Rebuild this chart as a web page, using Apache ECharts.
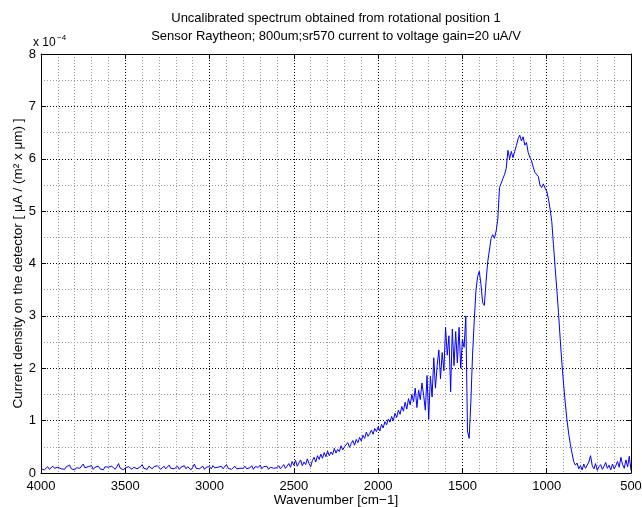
<!DOCTYPE html>
<html>
<head>
<meta charset="utf-8">
<script src="https://cdn.jsdelivr.net/npm/echarts@6/dist/echarts.min.js"></script>
<style>
  html, body { margin: 0; padding: 0; background: #fff; }
  #chart { width: 642px; height: 507px; }
</style>
</head>
<body>
<div id="chart"></div>
<script>
// Spectrum sampled every 10 cm^-1, values in units of 1e-4 µA/(m² x µm)
const WN_START = 4000;
const WN_STEP = 10;

// 4000 -> 2610 cm^-1 : flat baseline
const baseline = [
  0.08,0.11,0.06,0.09,0.12,0.07,0.10,0.13,0.09,0.06,0.11,0.14,0.08,0.10,0.07,0.12,0.09,0.15,0.08,0.11,
  0.06,0.10,0.13,0.09,0.12,0.17,0.10,0.08,0.12,0.09,0.14,0.07,0.11,0.09,0.13,0.08,0.10,0.06,0.12,0.09,
  0.11,0.08,0.13,0.10,0.07,0.12,0.18,0.09,0.11,0.06,0.10,0.08,0.12,0.09,0.07,0.11,0.13,0.08,0.10,0.12,
  0.16,0.09,0.11,0.07,0.13,0.10,0.08,0.12,0.09,0.14,0.11,0.07,0.10,0.13,0.08,0.11,0.15,0.09,0.12,0.08,
  0.10,0.13,0.07,0.11,0.09,0.14,0.08,0.12,0.10,0.06,0.11,0.17,0.09,0.12,0.08,0.10,0.13,0.07,0.11,0.09,
  0.12,0.08,0.14,0.10,0.07,0.11,0.09,0.13,0.08,0.10,0.16,0.09,0.12,0.07,0.10,0.13,0.08,0.11,0.09,0.12,
  0.09,0.13,0.08,0.11,0.10,0.14,0.07,0.12,0.09,0.11,0.15,0.08,0.12,0.10,0.13,0.07,0.11,0.14,0.09,0.12
];

// 2600 -> 2010 cm^-1 : onset
const onset = [
  0.10,0.14,0.08,0.12,0.16,0.09,0.13,0.18,0.11,0.22,0.15,0.24,0.13,0.19,0.25,0.14,0.21,0.16,0.27,0.18,
  0.12,0.24,0.30,0.21,0.33,0.26,0.36,0.28,0.39,0.31,0.42,0.33,0.40,0.35,0.47,0.38,0.45,0.41,0.52,0.44,
  0.50,0.47,0.58,0.49,0.56,0.62,0.53,0.64,0.58,0.68,0.61,0.72,0.66,0.78,0.70,0.75,0.82,0.74,0.85,0.79
];

// 2000 -> 1510 cm^-1 : noisy rise
const noisyRise = [
  0.88,0.80,0.93,0.86,0.98,0.92,1.03,0.97,1.08,1.00,1.14,1.06,1.20,1.12,1.27,1.18,1.35,1.22,1.42,1.30,
  1.50,1.36,1.62,1.25,1.58,1.40,1.72,1.48,1.20,1.86,1.02,1.85,1.45,2.20,1.62,2.05,2.35,1.80,2.30,1.95,
  2.78,2.25,2.62,1.55,2.75,2.05,2.70,2.10,2.78,2.00
];

// 1500 -> 1010 cm^-1 : absorption dip and main peak
const mainPeak = [
  2.55,2.40,3.00,0.80,0.66,1.35,2.25,2.90,3.48,3.75,3.85,3.60,3.25,3.20,3.65,4.03,4.06,4.48,4.55,4.48,
  4.62,4.85,5.45,5.48,5.62,5.70,5.82,6.16,6.00,6.14,6.02,6.14,6.25,6.38,6.45,6.34,6.42,6.26,6.31,6.12,
  6.03,5.96,5.84,5.74,5.71,5.66,5.50,5.45,5.52,5.44
];

// 1000 -> 500 cm^-1 : cut-off and tail
const cutoff = [
  5.38,5.24,5.04,4.80,4.36,3.92,3.50,3.06,2.56,2.10,1.70,1.34,1.02,0.76,0.55,0.38,0.22,0.15,0.19,0.08,
  0.14,0.06,0.17,0.09,0.12,0.21,0.33,0.14,0.08,0.18,0.05,0.12,0.16,0.07,0.13,0.20,0.09,0.15,0.06,0.17,
  0.08,0.14,0.22,0.11,0.30,0.16,0.09,0.25,0.12,0.32,0.05
];

const xTicks = [4000, 3500, 3000, 2500, 2000, 1500, 1000, 500];
const yTicks = [0, 1, 2, 3, 4, 5, 6, 7, 8];

const values = [].concat(baseline, onset, noisyRise, mainPeak, cutoff);
const seriesData = values.map((v, i) => [WN_START - i * WN_STEP, v]);

const FONT = 'Liberation Sans, Arial, Helvetica, sans-serif';
const majorGrid = { show: true, lineStyle: { color: '#000', width: 1, type: [1, 2] } };
const minorGrid = { show: true, lineStyle: { color: '#9a9a9a', width: 1, type: [1, 2] } };

const chart = echarts.init(document.getElementById('chart'), null, { renderer: 'canvas' });
chart.setOption({
  animation: false,
  backgroundColor: '#fff',
  grid: { left: 41, right: 11, top: 54, bottom: 34, containLabel: false, outerBoundsMode: 'none' },
  graphic: [
    {
      type: 'text', x: 336, y: 9,
      style: {
        text: 'Uncalibrated spectrum obtained from rotational position 1\nSensor Raytheon; 800um;sr570 current to voltage gain=20 uA/V',
        font: '13px ' + FONT, fill: '#000', align: 'center', verticalAlign: 'top', lineHeight: 18
      }
    },
    { type: 'text', x: 33, y: 37, style: { text: 'x 10', font: '12px ' + FONT, fill: '#000' } },
    { type: 'text', x: 57, y: 34, style: { text: '\u22124', font: '8px ' + FONT, fill: '#000' } }
  ],
  xAxis: [
    {
      type: 'value', inverse: true, min: 500, max: 4000, interval: 500,
      name: 'Wavenumber [cm\u22121]', nameLocation: 'middle', nameGap: 20, nameMoveOverlap: false,
      nameTextStyle: { color: '#000', fontSize: 13.5, fontFamily: FONT },
      axisLine: { show: true, onZero: false, lineStyle: { color: '#000', width: 1 } },
      axisTick: { show: true, inside: true, length: 5, lineStyle: { color: '#000' } },
      axisLabel: {
        color: '#000', fontSize: 13, fontFamily: FONT, margin: 7,
        showMinLabel: true, showMaxLabel: true,
        formatter: v => (xTicks.indexOf(v) >= 0 ? String(v) : '')
      },
      splitLine: majorGrid,
      minorTick: { show: false, splitNumber: 5 },
      minorSplitLine: minorGrid
    },
    {
      type: 'value', inverse: true, min: 500, max: 4000, interval: 500, position: 'top',
      axisLine: { show: true, onZero: false, lineStyle: { color: '#000', width: 1 } },
      axisTick: { show: true, inside: true, length: 5, lineStyle: { color: '#000' } },
      axisLabel: { show: false }, splitLine: { show: false }
    }
  ],
  yAxis: [
    {
      type: 'value', min: 0, max: 8, interval: 1,
      name: 'Current density on the detector [ \u03bcA / (m\u00b2 x \u03bcm) ]',
      nameLocation: 'middle', nameGap: 16, nameRotate: 90, nameMoveOverlap: false,
      nameTextStyle: { color: '#000', fontSize: 13.5, fontFamily: FONT },
      axisLine: { show: true, onZero: false, lineStyle: { color: '#000', width: 1 } },
      axisTick: { show: true, inside: true, length: 5, lineStyle: { color: '#000' } },
      axisLabel: {
        color: '#000', fontSize: 13, fontFamily: FONT, margin: 5,
        formatter: v => (yTicks.indexOf(v) >= 0 ? String(v) : '')
      },
      splitLine: majorGrid,
      minorTick: { show: false, splitNumber: 2 },
      minorSplitLine: minorGrid
    },
    {
      type: 'value', min: 0, max: 8, interval: 1, position: 'right',
      axisLine: { show: true, onZero: false, lineStyle: { color: '#000', width: 1 } },
      axisTick: { show: true, inside: true, length: 5, lineStyle: { color: '#000' } },
      axisLabel: { show: false }, splitLine: { show: false }
    }
  ],
  series: [
    {
      type: 'line', xAxisIndex: 0, yAxisIndex: 0,
      data: seriesData, showSymbol: false, symbol: 'none',
      lineStyle: { color: '#0000ff', width: 1 },
      z: 3
    }
  ]
});
</script>
</body>
</html>
